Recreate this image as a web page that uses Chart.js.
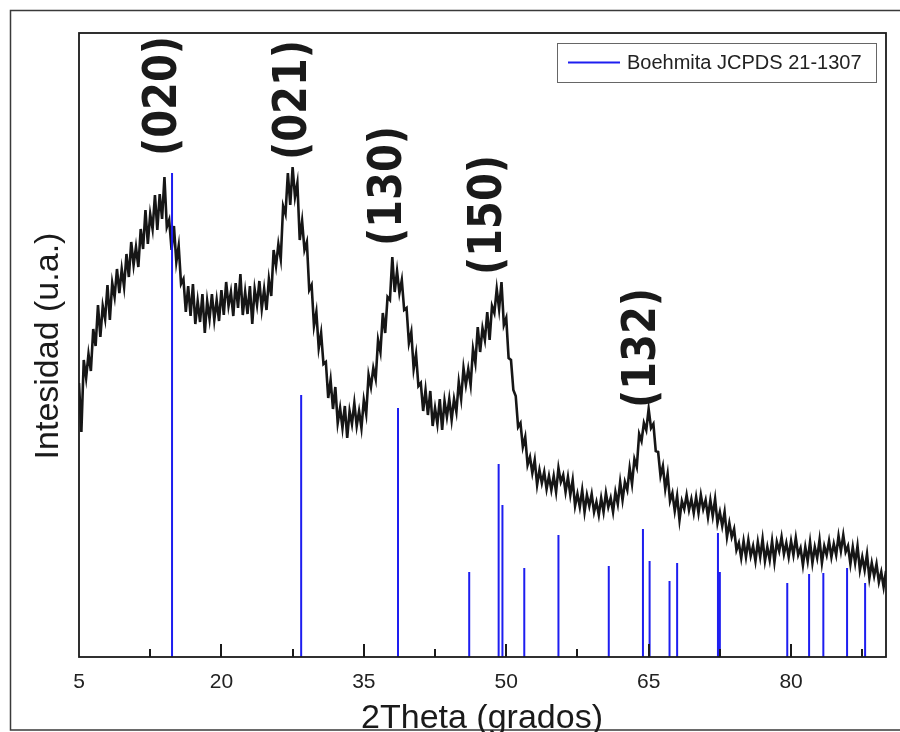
<!DOCTYPE html>
<html lang="es">
<head>
<meta charset="UTF-8">
<title>DRX Boehmita</title>
<script src="https://cdn.jsdelivr.net/npm/chart.js"></script>
<style>
    html, body { margin: 0; padding: 0; background: #fff; }
    #chart { display: block; }
</style>
</head>
<body>
<canvas id="chart" width="900" height="732"></canvas>

<script>
    // measured pattern: 2Theta from 5 to 90, one reading every 0.25 deg (a.u.)
    var thetaStart = 5;
    var thetaStep = 0.25;
    var intensity = [
        274, 225, 297, 279, 303, 286, 328, 311, 352, 320, 351, 338, 372, 337, 374, 360, 388, 364, 388, 370,
        403, 380, 415, 392, 410, 390, 428, 408, 447, 413, 443, 428, 462, 427, 463, 438, 480, 430, 437, 407,
        431, 395, 411, 373, 378, 345, 371, 341, 373, 333, 356, 335, 363, 324, 356, 338, 363, 337, 357, 336,
        367, 342, 375, 351, 365, 341, 374, 349, 383, 342, 365, 343, 371, 333, 368, 352, 376, 348, 368, 347,
        378, 361, 407, 391, 413, 398, 451, 443, 484, 452, 490, 460, 474, 417, 436, 407, 415, 367, 372, 331,
        345, 309, 324, 293, 295, 259, 277, 248, 270, 234, 249, 229, 251, 219, 246, 233, 254, 231, 246, 229,
        257, 243, 282, 270, 289, 278, 317, 305, 344, 324, 360, 357, 400, 365, 386, 364, 377, 347, 349, 314,
        325, 288, 303, 271, 274, 246, 267, 242, 266, 231, 249, 233, 258, 227, 256, 240, 258, 237, 258, 245,
        275, 258, 289, 272, 288, 272, 308, 294, 330, 305, 329, 317, 345, 317, 351, 344, 368, 348, 375, 332,
        339, 299, 297, 267, 261, 230, 234, 210, 220, 192, 200, 184, 197, 172, 187, 174, 185, 168, 181, 167,
        181, 165, 189, 175, 182, 165, 180, 162, 177, 151, 163, 150, 167, 145, 162, 151, 163, 145, 155, 142,
        159, 145, 164, 150, 159, 145, 165, 153, 175, 157, 175, 167, 189, 173, 198, 190, 223, 216, 234, 227,
        248, 229, 233, 206, 205, 181, 191, 168, 183, 156, 164, 146, 161, 137, 156, 148, 162, 147, 158, 144,
        160, 144, 162, 148, 157, 140, 157, 141, 158, 134, 145, 131, 145, 120, 134, 120, 128, 107, 114, 99,
        116, 100, 117, 101, 111, 96, 115, 100, 118, 96, 110, 97, 116, 95, 115, 106, 120, 103, 114, 100,
        116, 102, 119, 102, 109, 92, 110, 96, 115, 94, 110, 99, 117, 94, 111, 102, 116, 100, 113, 102,
        121, 106, 122, 105, 111, 93, 110, 94, 111, 87, 100, 87, 103, 79, 94, 81, 93, 75, 85, 70, 86
    ];

    // Boehmita JCPDS 21-1307 reference lines
    var refTheta = [14.8, 28.4, 38.6, 46.1, 49.2, 49.6, 51.9, 55.5, 60.8, 64.4,
                    65.1, 67.2, 68.0, 72.3, 72.5, 79.6, 81.9, 83.4, 85.9, 87.8];
    var refHeight = [484, 262, 249, 85, 193, 152, 89, 122, 91, 128,
                     96, 76, 94, 124, 85, 74, 83, 84, 89, 74];

    // Miller indices written above the peaks (2Theta, intensity where the label starts)
    var peakNames = ['(020)', '(021)', '(130)', '(150)', '(132)'];
    var peakTheta = [13.95, 27.7, 37.7, 48.2, 64.4];
    var peakBase = [501, 497, 411, 382, 249];

    var xTicks = [5, 20, 35, 50, 65, 80];
    var xMinorTicks = [12.5, 27.5, 42.5, 57.5, 72.5, 87.5];

    var curveData = intensity.map(function (v, i) {
        return { x: thetaStart + i * thetaStep, y: v };
    });

    var stickData = [];
    refTheta.forEach(function (t, i) {
        stickData.push({ x: t, y: 0 }, { x: t, y: refHeight[i] }, { x: t, y: null });
    });

    var textFont = '"Liberation Sans", Arial, sans-serif';

    var decor = {
        id: 'decor',
        afterDraw: function (chart) {
            var c = chart.ctx;
            var a = chart.chartArea;
            var xs = chart.scales.x;
            var ys = chart.scales.y;
            c.save();

            // outer frame of the figure
            c.strokeStyle = '#3a3a3a';
            c.lineWidth = 1.5;
            c.beginPath();
            c.moveTo(900, 10.5);
            c.lineTo(10.5, 10.5);
            c.lineTo(10.5, 730);
            c.lineTo(900, 730);
            c.stroke();

            // plot box
            c.strokeStyle = '#1a1a1a';
            c.lineWidth = 1.8;
            c.strokeRect(a.left, a.top, a.right - a.left, a.bottom - a.top);

            // ticks pointing inwards
            c.lineWidth = 2;
            c.beginPath();
            xTicks.forEach(function (t) {
                if (t === xs.min) return;
                var px = Math.round(xs.getPixelForValue(t));
                c.moveTo(px, a.bottom);
                c.lineTo(px, a.bottom - 13);
            });
            xMinorTicks.forEach(function (t) {
                var px = Math.round(xs.getPixelForValue(t));
                c.moveTo(px, a.bottom);
                c.lineTo(px, a.bottom - 8);
            });
            c.stroke();

            // axis titles
            c.fillStyle = '#1a1a1a';
            c.font = '34px ' + textFont;
            c.textAlign = 'center';
            c.textBaseline = 'alphabetic';
            c.fillText('2Theta (grados)', 482, 728);

            c.save();
            c.translate(58, 346);
            c.rotate(-Math.PI / 2);
            c.fillText('Intesidad (u.a.)', 0, 0);
            c.restore();

            // peak labels
            c.font = 'bold 40px "DejaVu Sans", Verdana, sans-serif';
            c.textAlign = 'left';
            c.textBaseline = 'middle';
            peakNames.forEach(function (name, i) {
                c.save();
                c.translate(xs.getPixelForValue(peakTheta[i]), ys.getPixelForValue(peakBase[i]));
                c.rotate(-Math.PI / 2);
                c.scale(1, 1.15);
                c.fillText(name, 0, 0);
                c.restore();
            });

            // legend box
            c.strokeStyle = '#666';
            c.lineWidth = 1;
            c.strokeRect(557.5, 43.5, 319, 39);
            c.strokeStyle = '#1e1ef0';
            c.lineWidth = 2;
            c.beginPath();
            c.moveTo(568, 62.5);
            c.lineTo(620, 62.5);
            c.stroke();
            c.fillStyle = '#222';
            c.font = '20px ' + textFont;
            c.textAlign = 'left';
            c.textBaseline = 'middle';
            c.fillText(chart.data.datasets[0].label, 627, 63);

            c.restore();
        }
    };

    var ctx = document.getElementById('chart').getContext('2d');
    new Chart(ctx, {
        type: 'line',
        data: {
            datasets: [{
                label: 'Boehmita JCPDS 21-1307',
                data: stickData,
                borderColor: '#1e1ef0',
                borderWidth: 2,
                pointRadius: 0,
                spanGaps: false,
                order: 0
            }, {
                label: 'Muestra',
                data: curveData,
                borderColor: '#161616',
                borderWidth: 2.6,
                pointRadius: 0,
                tension: 0,
                order: 1
            }]
        },
        options: {
            responsive: false,
            animation: false,
            events: [],
            layout: { padding: { left: 79, right: 14, top: 33, bottom: 0 } },
            plugins: {
                legend: { display: false },
                tooltip: { enabled: false }
            },
            scales: {
                x: {
                    type: 'linear',
                    min: 5,
                    max: 90,
                    afterBuildTicks: function (scale) {
                        scale.ticks = xTicks.map(function (v) { return { value: v }; });
                    },
                    afterFit: function (scale) {
                        scale.height = 75;
                    },
                    grid: { display: false, drawTicks: false },
                    border: { display: false },
                    ticks: {
                        padding: 13,
                        autoSkip: false,
                        maxRotation: 0,
                        color: '#222',
                        font: { family: 'Liberation Sans', size: 21 }
                    }
                },
                y: {
                    display: false,
                    min: 0,
                    max: 624
                }
            }
        },
        plugins: [decor]
    });
</script>
</body>
</html>
